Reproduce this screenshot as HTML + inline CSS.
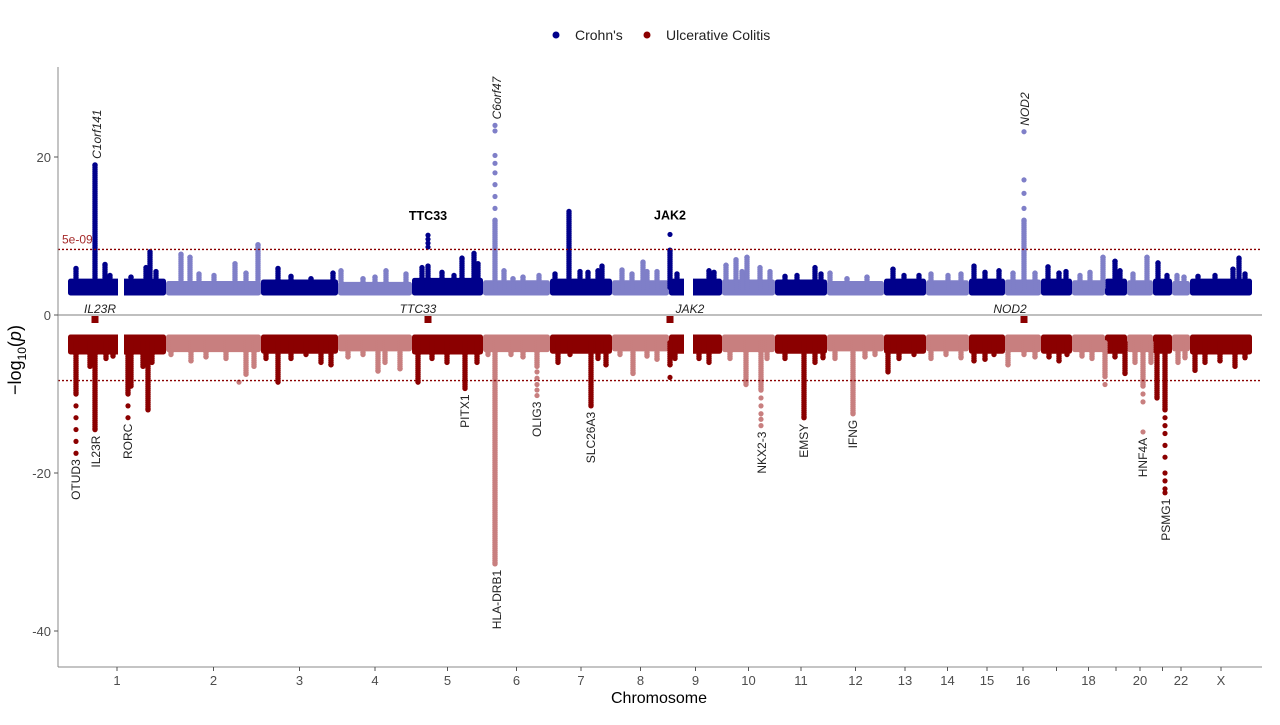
<!DOCTYPE html>
<html><head><meta charset="utf-8"><style>
body{margin:0;background:#fff;font-family:"Liberation Sans",Arial,sans-serif}
svg text{font-family:"Liberation Sans",Arial,sans-serif}
</style></head><body>
<svg id="c" width="1280" height="720" xmlns="http://www.w3.org/2000/svg">
<g>
<circle cx="556" cy="35" r="3.5" fill="#00008B"/>
<text x="575" y="40" font-size="14" fill="#222">Crohn's</text>
<circle cx="647" cy="35" r="3.5" fill="#8B0000"/>
<text x="666" y="40" font-size="14" fill="#222">Ulcerative Colitis</text>
</g>
<g id="marks"></g>
<line x1="58" y1="67" x2="58" y2="667" stroke="#888"/>
<line x1="58" y1="667" x2="1262" y2="667" stroke="#888"/>
<g id="axes"></g>
<text x="659" y="703" font-size="16" text-anchor="middle" fill="#000">Chromosome</text>
<text transform="translate(21,360) rotate(-90)" font-size="18" text-anchor="middle" fill="#000">−log<tspan font-size="12" dy="5">10</tspan><tspan dy="-5">(</tspan><tspan font-style="italic">p</tspan>)</text>
</svg>
<script>
const chrNames=["1","2","3","4","5","6","7","8","9","10","11","12","13","14","15","16","17","18","19","20","21","22","X"];
const chrLens=[98,95,77,74,71,67,62,57,53,53,52,57,42,43,36,36,31,33,22,26,19,18,62];
const chrShowLabel=[1,1,1,1,1,1,1,1,1,1,1,1,1,1,1,1,0,1,0,1,0,1,1];
const crohnBandTop=[4.6,4.3,4.5,4.2,4.7,4.4,4.6,4.4,4.6,4.5,4.5,4.3,4.6,4.4,4.6,4.5,4.6,4.4,4.6,4.4,4.6,4.3,4.6];
const ucBandBottom=[-5.0,-4.7,-4.9,-4.6,-5.0,-4.7,-4.9,-4.6,-4.9,-4.7,-4.9,-4.6,-4.9,-4.6,-4.9,-4.7,-4.9,-4.7,-4.9,-4.7,-4.9,-4.6,-5.0];
const yTicks=[20,0,-20,-40];
const threshold=8.3;
const crohnPeaks=[[1,8,5.9],[1,27,19],[1,37,6.4],[1,42,5.0],[1,63,4.8],[1,78,6.0],[1,82,8.0],[1,88,5.5],
[2,15,7.7],[2,24,7.3],[2,33,5.2],[2,48,5],[2,69,6.5],[2,80,5.3],[2,92,8.9],
[3,17,5.9],[3,30,4.9],[3,50,4.6],[3,72,5.3],
[4,3,5.6],[4,25,4.6],[4,37,4.8],[4,48,5.6],[4,68,5.2],
[5,16,6.2],[5,10,6],[5,30,5.4],[5,42,5.0],[5,50,7.2],[5,62,7.8],[5,66,6.5],
[6,12,12],[6,21,5.6],[6,30,4.6],[6,40,4.8],[6,56,5],
[7,5,5.2],[7,19,13.1],[7,30,5.5],[7,38,5.4],[7,48,5.6],[7,52,6.2],
[8,10,5.7],[8,20,5.2],[8,31,6.7],[8,35,5.5],[8,45,5.5],
[9,1,8.2],[9,8,5.2],[9,40,5.6],[9,45,5.4],
[10,4,6.3],[10,14,7.0],[10,25,7.3],[10,20,5.5],[10,38,6],[10,48,5.5],
[11,10,4.9],[11,22,5.0],[11,40,6.0],[11,46,5.2],
[12,3,5.3],[12,20,4.6],[12,40,4.8],
[13,9,5.8],[13,20,5.0],[13,35,5.0],
[14,5,5.2],[14,22,5.0],[14,35,5.2],
[15,5,6.2],[15,16,5.4],[15,30,5.6],
[16,19,12],[16,8,5.3],[16,30,5.3],
[17,7,6.1],[17,18,5.3],[17,25,5.5],
[18,8,5.0],[18,18,5.4],[18,31,7.3],
[19,10,6.8],[19,15,5.6],
[20,6,5.2],[20,20,7.3],
[21,5,6.6],[21,14,5],
[22,5,5],[22,12,4.8],
[23,8,4.9],[23,25,5.0],[23,43,5.8],[23,49,7.2],[23,55,5.2]];
const crohnDots=[[5,16,8.6],[5,16,9.1],[5,16,9.6],[5,16,10.1],[6,12,13.5],[6,12,15],[6,12,16.5],[6,12,18],[6,12,19.2],[6,12,20.2],[6,12,23.3],[6,12,24],[9,1,10.2],[16,19,13.5],[16,19,15.4],[16,19,17.1],[16,19,23.2]];
const ucPeaks=[[1,8,-10],[1,27,-14.5],[1,22,-6.5],[1,38,-5.5],[1,45,-5.2],[1,60,-10],[1,63,-9],[1,80,-12],[1,75,-6.5],[1,84,-6],
[2,5,-5],[2,25,-5.8],[2,40,-5.3],[2,60,-5.5],[2,80,-7.5],[2,88,-6.5],
[3,5,-5.5],[3,17,-8.5],[3,30,-5.5],[3,45,-5],[3,60,-6],[3,70,-6.3],
[4,10,-5.3],[4,25,-5],[4,40,-7.1],[4,47,-6],[4,62,-6.8],
[5,6,-8.5],[5,20,-5.5],[5,35,-6],[5,53,-9.3],[5,65,-6],
[6,12,-31.5],[6,5,-5],[6,28,-5],[6,54,-6.5],[6,40,-5.3],
[7,8,-6],[7,20,-5],[7,41,-11.5],[7,48,-5.5],[7,56,-6.3],
[8,8,-5],[8,21,-7.4],[8,35,-5.2],[8,45,-5.6],
[9,1,-6.3],[9,6,-5.5],[9,30,-5.5],[9,40,-6],
[10,8,-5.5],[10,24,-8.8],[10,39,-9.5],[10,45,-5.5],
[11,10,-5.5],[11,29,-13],[11,40,-6],[11,48,-5.4],
[12,8,-5.5],[12,26,-12.5],[12,38,-5.3],[12,48,-5],
[13,4,-7.2],[13,15,-5.5],[13,30,-5],
[14,5,-5.5],[14,20,-5],[14,35,-5.4],
[15,5,-5.8],[15,16,-5.6],[15,25,-5],
[16,3,-6.3],[16,19,-5],[16,30,-5.3],
[17,8,-5.3],[17,18,-5.8],[17,26,-5],
[18,10,-5.2],[18,20,-5.5],[18,33,-7.8],
[19,10,-5.3],[19,20,-7.4],
[20,8,-6],[20,16,-9.0],[20,24,-6],
[21,4,-10.5],[21,12,-12],
[22,6,-6],[22,13,-5.4],
[23,5,-7],[23,15,-6],[23,30,-5.8],[23,45,-6.5],[23,55,-5.4]];
const ucDots=[[1,8,-11.5],[1,8,-13],[1,8,-14.5],[1,8,-16],[1,8,-17.5],[1,60,-11.5],[1,60,-13],[2,73,-8.5],[6,54,-7.2],[6,54,-8],[6,54,-8.8],[6,54,-9.5],[6,54,-10.2],[9,1,-7.9],[10,39,-10.5],[10,39,-11.5],[10,39,-12.5],[10,39,-13.2],[10,39,-14],[18,33,-8.8],[20,16,-10],[20,16,-11],[20,16,-14.8],[21,12,-13],[21,12,-14],[21,12,-15],[21,12,-16.5],[21,12,-18],[21,12,-20],[21,12,-21],[21,12,-22],[21,12,-22.5]];
const crohnLabels=[[1,29,"C1orf141","rot"],[5,16,"TTC33","bold"],[6,14,"C6orf47","rot"],[9,1,"JAK2","bold"],[16,20,"NOD2","rot"]];
const ucLabels=[[1,8,-17.5,"OTUD3"],[1,28,-14.5,"IL23R"],[1,60,-13,"RORC"],[5,53,-9.3,"PITX1"],[6,14,-31.5,"HLA-DRB1"],[6,54,-10.2,"OLIG3"],[7,41,-11.5,"SLC26A3"],[10,40,-14,"NKX2-3"],[11,29,-13,"EMSY"],[12,26,-12.5,"IFNG"],[20,16,-14.8,"HNF4A"],[21,13,-22.5,"PSMG1"]];
const sharedLoci=[[1,27,"IL23R",5],[5,16,"TTC33",-10],[9,1,"JAK2",20],[16,19,"NOD2",-14]];

const NS="http://www.w3.org/2000/svg";
const starts=[];let acc=68;for(const l of chrLens){starts.push(acc);acc+=l;}
function xS(c,p){return starts[c-1]+p;}
function yS(v){return 315-v*7.9;}
const marks=document.getElementById('marks'),axes=document.getElementById('axes');
function el(t,a,p){const e=document.createElementNS(NS,t);for(const k in a)e.setAttribute(k,a[k]);(p||marks).appendChild(e);return e;}
const cDark="#00008B",cLight="#7F7FC8",uDark="#8B0000",uLight="#C87F7F";
function col(c,crohn){const odd=(c%2===1);return crohn?(odd?cDark:cLight):(odd?uDark:uLight);}
chrLens.forEach((l,i)=>{
  const c=i+1;
  let r=el('rect',{x:xS(c,0),y:yS(crohnBandTop[i]),width:l,height:yS(2.8)-yS(crohnBandTop[i])+2.6,fill:col(c,true),rx:2.5});
  
  
  let u=el('rect',{x:xS(c,0),y:yS(-2.8)-2.6,width:l,height:yS(ucBandBottom[i])-yS(-2.8)+2.6,fill:col(c,false),rx:2.5});
  
  
});
[[1,50,56],[9,15,24]].forEach(g=>{el('rect',{x:xS(g[0],g[1]),y:yS(5),width:g[2]-g[1],height:yS(-5.3)-yS(5),fill:"#fff"});});
el('line',{x1:58,y1:315,x2:1262,y2:315,stroke:"#999","stroke-width":1.2});
function column(c,p,v,crohn,name){
  const g=el('g',{fill:col(c,crohn)});
  
  
  const y0=yS(crohn?3.5:-3.5),y1=yS(v);
  const step=y1<y0?-2:2;
  for(let y=y0;(step<0?y>=y1:y<=y1);y+=step){el('circle',{cx:xS(c,p),cy:y,r:2.7},g);}
  el('circle',{cx:xS(c,p),cy:y1,r:2.7},g);
}
crohnPeaks.forEach(d=>column(d[0],d[1],d[2],true,'crohns-peak'));
ucPeaks.forEach(d=>column(d[0],d[1],d[2],false,'uc-peak'));
crohnDots.forEach(d=>{const e=el('circle',{cx:xS(d[0],d[1]),cy:yS(d[2]),r:2.6,fill:col(d[0],true)});
  
  });
ucDots.forEach(d=>{const e=el('circle',{cx:xS(d[0],d[1]),cy:yS(d[2]),r:2.6,fill:col(d[0],false)});
  
  });
[threshold,-threshold].forEach((t,i)=>{const l=el('line',{x1:58,y1:yS(t),x2:1262,y2:yS(t),stroke:"#8B0000","stroke-width":1.3,"stroke-dasharray":"2,2"});
  
  });
const tl=el('text',{x:62,y:yS(threshold)-6,"font-size":12,fill:"#A52A2A"});tl.textContent="5e-09";


crohnLabels.forEach(d=>{const x=xS(d[0],d[1]);let t;
  if(d[3]==="rot"){const top=Math.max(...crohnDots.concat(crohnPeaks).filter(q=>q[0]===d[0]&&Math.abs(q[1]-d[1])<3).map(q=>q[2]));
    t=el('text',{transform:`translate(${x+4},${yS(top)-6}) rotate(-90)`,"font-size":12,"font-style":"italic",fill:"#222"});}
  else{const top=Math.max(...crohnDots.concat(crohnPeaks).filter(q=>q[0]===d[0]&&q[1]===d[1]).map(q=>q[2]));
    t=el('text',{x:x,y:yS(top)-15,"font-size":12.5,"font-weight":"bold","text-anchor":"middle",fill:"#000"});}
  t.textContent=d[2];
  
  });
ucLabels.forEach(d=>{const x=xS(d[0],d[1]);
  const t=el('text',{transform:`translate(${x+4},${yS(d[2])+6}) rotate(-90)`,"font-size":12,"text-anchor":"end",fill:"#222"});
  t.textContent=d[3];
  
  });
sharedLoci.forEach(d=>{const x=xS(d[0],d[1]);
  const s=el('rect',{x:x-3.5,y:316,width:7,height:7,fill:"#8B0000"});
  
  
  const t=el('text',{x:x+d[3],y:313,"font-size":12,"font-style":"italic","text-anchor":"middle",fill:"#222"});
  t.textContent=d[2];
  
  });
yTicks.forEach(v=>{el('line',{x1:54,y1:yS(v),x2:58,y2:yS(v),stroke:"#555"},axes);
  const t=el('text',{x:51,y:yS(v)+5,"font-size":13,"text-anchor":"end",fill:"#4d4d4d"},axes);t.textContent=v;
  
  });
chrLens.forEach((l,i)=>{const x=starts[i]+l/2;
  el('line',{x1:x,y1:667,x2:x,y2:671,stroke:"#555"},axes);
  if(chrShowLabel[i]){const t=el('text',{x:x,y:685,"font-size":13,"text-anchor":"middle",fill:"#4d4d4d"},axes);t.textContent=chrNames[i];
  
  }});
</script>
</body></html>
